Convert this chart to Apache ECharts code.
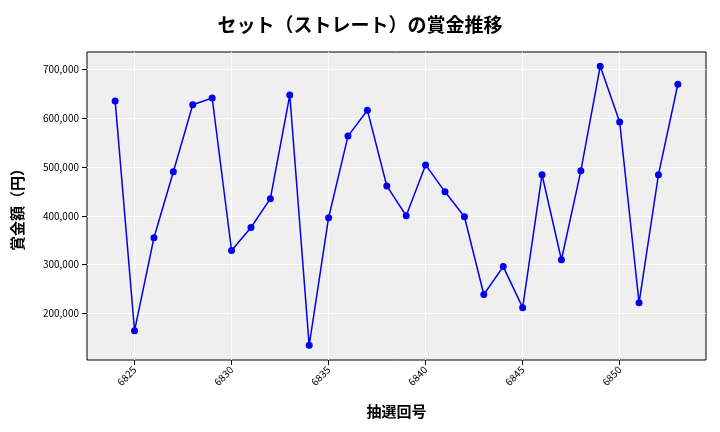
<!DOCTYPE html><html><head><meta charset="utf-8"><script src="https://cdn.jsdelivr.net/npm/echarts@6/dist/echarts.min.js"></script></head><body style="margin:0"><div id="c" style="width:720px;height:432px"></div><script>
const draws=[6824,6825,6826,6827,6828,6829,6830,6831,6832,6833,6834,6835,6836,6837,6838,6839,6840,6841,6842,6843,6844,6845,6846,6847,6848,6849,6850,6851,6852,6853];
const prizes=[635000,165000,355000,490000,627000,641000,329000,376000,435000,647000,135000,396000,563000,616000,461000,400000,504000,449000,398000,239000,296000,212000,484000,310000,492000,706000,592000,222000,484000,669000];
const xTicks=[6825,6830,6835,6840,6845,6850];
const yTicks=[200000,300000,400000,500000,600000,700000];
const f="'Noto Sans CJK JP'";
const ch=echarts.init(document.getElementById('c'));
ch.setOption({
title:{text:'セット（ストレート）の賞金推移',left:'center',top:10,textStyle:{fontFamily:f,fontSize:19,fontWeight:'bold',color:'#000'}},
grid:{left:87,right:14,top:52,bottom:72,outerBoundsMode:'none',containLabel:false,backgroundColor:'#efefef',show:true,borderColor:'#000',borderWidth:1},
xAxis:{type:'value',min:6822.55,max:6854.45,name:'抽選回号',nameLocation:'middle',nameGap:44,nameTextStyle:{fontFamily:f,fontSize:15,fontWeight:'bold',color:'#000'},
axisLine:{show:false},axisTick:{show:true,customValues:xTicks,lineStyle:{color:'#000'}},axisLabel:{customValues:xTicks,rotate:45,fontSize:10,color:'#000',fontFamily:f,formatter:v=>String(v)},splitLine:{show:true,lineStyle:{color:'#fff'}}},
yAxis:{type:'value',min:105000,max:735000,name:'賞金額（円）',nameLocation:'middle',nameGap:62,nameTextStyle:{fontFamily:f,fontSize:15,fontWeight:'bold',color:'#000'},
axisLine:{show:false},axisTick:{show:true,customValues:yTicks,lineStyle:{color:'#000'}},axisLabel:{customValues:yTicks,fontSize:10,color:'#000',fontFamily:f,formatter:v=>v.toLocaleString('en-US')},splitLine:{show:true,lineStyle:{color:'#fff'}}},
series:[{type:'line',data:draws.map((d,i)=>[d,prizes[i]]),color:'#0000ee',symbol:'circle',symbolSize:7,lineStyle:{width:1.5,color:'#0000ee'},itemStyle:{color:'#0000ee'}}]
});
</script></body></html>
